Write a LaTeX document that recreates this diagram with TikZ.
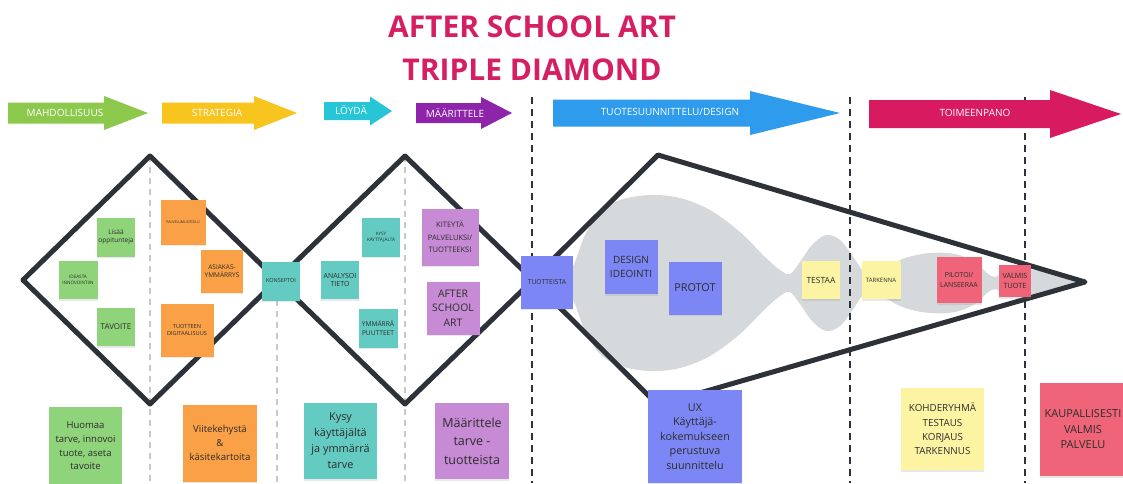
\documentclass[tikz,border=0pt]{standalone}
\usepackage{fontspec}
\setmainfont{Open Sans}
\usetikzlibrary{shadows}

\definecolor{notegreen}{RGB}{143,211,122}
\definecolor{noteorange}{RGB}{250,160,70}
\definecolor{noteteal}{RGB}{99,203,193}
\definecolor{notepurple}{RGB}{199,138,212}
\definecolor{noteblue}{RGB}{124,134,245}
\definecolor{noteyellow}{RGB}{252,244,163}
\definecolor{notepink}{RGB}{239,100,120}
\definecolor{notetext}{RGB}{45,45,45}
\definecolor{arrgreen}{RGB}{140,200,75}
\definecolor{arryellow}{RGB}{248,196,30}
\definecolor{arrcyan}{RGB}{38,198,214}
\definecolor{arrpurple}{RGB}{142,36,170}
\definecolor{arrblue}{RGB}{46,155,236}
\definecolor{arrpink}{RGB}{216,27,96}
\definecolor{titlepink}{RGB}{214,30,98}
\definecolor{linedark}{RGB}{45,50,56}
\definecolor{blobgray}{RGB}{214,217,220}
\definecolor{dashgray}{RGB}{200,200,200}

% colour, x start, x tip, x head start, y centre, body half height, head half height
\newcommand{\blockarrow}[7]{%
  \fill[#1] (#2,#5-#6) -- (#4,#5-#6) -- (#4,#5-#7) -- (#3,#5) -- (#4,#5+#7) -- (#4,#5+#6) -- (#2,#5+#6) -- cycle;}

\begin{document}
\begin{tikzpicture}[x=1pt,y=-1pt,
  sq/.style n args={3}{fill=#1, text=notetext, minimum width=#2, minimum height=#3,
    align=center, inner sep=0pt,
    drop shadow={shadow xshift=0pt, shadow yshift=-1.6pt, opacity=0.18}},
  fs/.style 2 args={font=\fontsize{#1}{#2}\selectfont},
  albl/.style={text=white, font=\fontsize{10}{12}\selectfont, inner sep=0pt},
  diam/.style={draw=linedark, line width=5pt, line join=round},
  gdash/.style={draw=dashgray, line width=1.6pt, dash pattern=on 6pt off 5pt},
  bdash/.style={draw=linedark, line width=2.4pt, dash pattern=on 7pt off 5pt}]

\useasboundingbox (0,0) rectangle (1123,483);
\fill[white] (0,0) rectangle (1123,483);

% grey funnel
\fill[blobgray] plot[smooth cycle, tension=0.55] coordinates {
 (565,283) (575,262) (585,235) (600,212) (620,200) (650,195) (680,198) (710,210)
 (740,232) (765,257) (780,270) (790,274) (800,262) (812,245) (826,235) (840,240)
 (852,255) (862,270) (870,275) (885,268) (905,258) (930,253) (955,254) (975,262)
 (987,273) (995,277) (1005,272) (1020,269) (1040,271) (1060,276) (1080,283)
 (1060,290) (1040,295) (1020,297) (1005,294) (995,289) (987,293) (975,304)
 (955,312) (930,313) (905,308) (885,298) (870,291) (862,296) (852,311) (840,326)
 (826,331) (812,321) (800,304) (790,292) (780,296) (765,309) (740,334) (710,356)
 (680,368) (650,371) (620,366) (600,354) (585,331) (575,304)};

% dashed separators
\draw[gdash] (150,156) -- (150,483);
\draw[gdash] (277,300) -- (277,483);
\draw[gdash] (405,156) -- (405,483);
\draw[bdash] (532,97) -- (532,483);
\draw[bdash] (850,97) -- (850,483);
\draw[bdash] (1025,97) -- (1025,483);

% diamonds
\draw[diam] (23,280) -- (150,156) -- (277,280) -- (150,404) -- cycle;
\draw[diam] (277,280) -- (405,156) -- (533,280) -- (405,404) -- cycle;
\draw[diam] (532,280) -- (658,155) -- (1085,282) -- (658,405) -- cycle;

% phase arrows
\blockarrow{arrgreen}{8}{148}{104}{113}{10.5}{17}
\blockarrow{arryellow}{162}{297}{254}{113}{10.5}{17}
\blockarrow{arrcyan}{324}{392}{370}{111}{9}{14.5}
\blockarrow{arrpurple}{416}{512}{481}{113}{10}{16}
\blockarrow{arrblue}{553}{840}{750}{113}{13.5}{22}
\blockarrow{arrpink}{869}{1121}{1050}{114}{14}{24}
\node[albl] (lmah) at (65,113) {MAHDOLLISUUS};
\node[albl] (lstr) at (217,113) {STRATEGIA};
\node[albl] (lloy) at (351,110) {LÖYDÄ};
\node[albl] (lmaa) at (455,113) {MÄÄRITTELE};
\node[albl] (ltuo) at (670,112) {TUOTESUUNNITTELU/DESIGN};
\node[albl] (ltoi) at (975,113) {TOIMEENPANO};

% title
\node[text=titlepink, font=\fontsize{30}{36}\selectfont\bfseries, anchor=base, inner sep=0pt] (t1) at (532,37) {AFTER SCHOOL ART};
\node[text=titlepink, font=\fontsize{30}{36}\selectfont\bfseries, anchor=base, inner sep=0pt] (t2) at (532,80) {TRIPLE DIAMOND};

% diamond 1 notes
\node[sq={notegreen}{38pt}{39pt}, fs={6.5}{8.5}] (lisaa) at (116,237) {Lisää\\oppitunteja};
\node[sq={notegreen}{39pt}{38pt}, fs={4.6}{5.8}] (ideasta) at (78,280) {IDEASTA\\INNOVOINTIIN};
\node[sq={notegreen}{38pt}{38pt}, fs={8}{9}] (tavoite) at (116,327) {TAVOITE};
\node[sq={noteorange}{45pt}{45pt}, fs={3.6}{4.5}] (palvelu) at (183,222) {PALVELUMUOTOILU};
\node[sq={noteorange}{42pt}{43pt}, fs={6.5}{8.5}] (asiakas) at (222,271) {ASIAKAS-\\YMMÄRRYS};
\node[sq={noteorange}{53pt}{53pt}, fs={5.6}{7.2}] (tuotteen) at (187,330) {TUOTTEEN\\DIGITAALISUUS};

% diamond 2 notes
\node[sq={noteteal}{38pt}{39pt}, fs={5.5}{7}] (konseptoi) at (281,281) {KONSEPTOI};
\node[sq={noteteal}{38pt}{39pt}, fs={4.6}{5.8}] (kysy) at (381,237) {KYSY\\KÄYTTÄJÄLTÄ};
\node[sq={noteteal}{38pt}{38pt}, fs={7}{8.5}] (analysoi) at (340,280) {ANALYSOI\\TIETO};
\node[sq={noteteal}{39pt}{39pt}, fs={6.6}{8.5}] (ymmarra) at (378,328) {YMMÄRRÄ\\PUUTTEET};
\node[sq={notepurple}{57pt}{57pt}, fs={7.5}{12.5}] (kiteyta) at (450,237) {KITEYTÄ\\PALVELUKSI/\\TUOTTEEKSI};
\node[sq={notepurple}{53pt}{53pt}, fs={10.4}{14.5}] (asa) at (453,308) {AFTER\\SCHOOL\\ART};

% third shape notes
\node[sq={noteblue}{52pt}{53pt}, fs={6.8}{8}] (tuotteista) at (547,282) {TUOTTEISTA};
\node[sq={noteblue}{53pt}{54pt}, fs={10}{13.3}] (design) at (631,267) {DESIGN\\IDEOINTI};
\node[sq={noteblue}{53pt}{53pt}, fs={10.8}{12}] (protot) at (695,288) {PROTOT};
\node[sq={noteyellow}{38pt}{38pt}, fs={8.5}{10}] (testaa) at (821,280) {TESTAA};
\node[sq={noteyellow}{39pt}{38pt}, fs={6}{7}] (tarkenna) at (881,280) {TARKENNA};
\node[sq={notepink}{45pt}{46pt}, fs={6.9}{10}] (pilotoi) at (959,280) {PILOTOI/\\LANSEERAA};
\node[sq={notepink}{32pt}{32pt}, fs={7.2}{10}] (valmis) at (1015,281) {VALMIS\\TUOTE};

% bottom notes
\node[sq={notegreen}{73pt}{78pt}, fs={9.5}{13.6}] (huomaa) at (85.5,446) {Huomaa\\tarve, innovoi\\tuote, aseta\\tavoite};
\node[sq={noteorange}{74pt}{77pt}, fs={9.6}{13.7}] (viite) at (220,443) {Viitekehystä\\\&\\käsitekartoita};
\node[sq={noteteal}{73pt}{76pt}, fs={10.9}{16}] (kysy2) at (340.5,441) {Kysy\\käyttäjältä\\ja ymmärrä\\tarve};
\node[sq={notepurple}{74pt}{76pt}, fs={12.5}{18.5}] (maar) at (472,441) {Määrittele\\tarve -\\tuotteista};
\node[sq={noteblue}{94pt}{93pt}, fs={10.8}{14.4}] (ux) at (695,436.5) {UX\\Käyttäjä-\\kokemukseen\\perustuva\\suunnittelu};
\node[sq={noteyellow}{83pt}{82pt}, fs={9.8}{14.4}] (kohde) at (942.5,429) {KOHDERYHMÄ\\TESTAUS\\KORJAUS\\TARKENNUS};
\node[sq={notepink}{86pt}{93pt}, fs={11}{15.5}] (kaup) at (1083,429.5) {KAUPALLISESTI\\VALMIS\\PALVELU};

\end{tikzpicture}
\end{document}
